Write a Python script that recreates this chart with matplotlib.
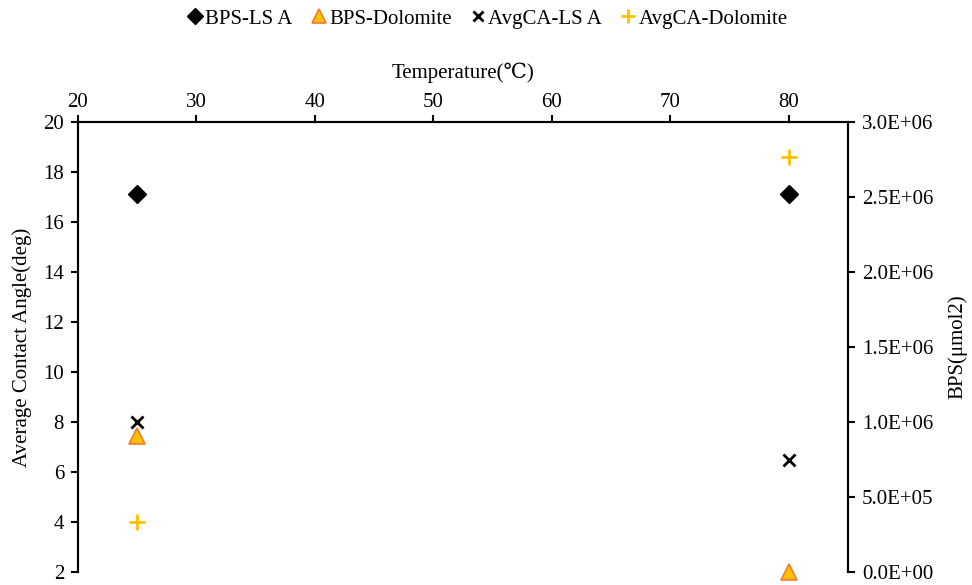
import numpy as np
import matplotlib
matplotlib.use('Agg')
import matplotlib.pyplot as plt
from matplotlib.ticker import FuncFormatter, MultipleLocator

plt.rcParams['font.family'] = ['Liberation Serif', 'DejaVu Serif']
plt.rcParams['font.size'] = 15

temps = [25, 80]
bps_ls_a = [2.52e6, 2.52e6]
bps_dolomite = [9.1e5, 0.0]
avgca_ls_a = [8.0, 6.5]
avgca_dolomite = [4.0, 18.6]

fig = plt.figure(figsize=(9.72, 5.85), dpi=100)
ax = fig.add_axes([0.0802, 0.0222, 0.7922, 0.7693])
ax2 = ax.twinx()

# left axis: contact angle
ax.plot(temps, avgca_ls_a, linestyle='none', marker='x', color='black',
        markersize=8, markeredgewidth=2, label='AvgCA-LS A', zorder=3)
ax.plot(temps, avgca_dolomite, linestyle='none', marker='+', color='#FFC000',
        markersize=12, markeredgewidth=2, label='AvgCA-Dolomite', zorder=3)

# right axis: BPS
ax2.plot(temps, bps_ls_a, linestyle='none', marker='D', color='black',
         markersize=9, label='BPS-LS A')
ax2.plot(temps, bps_dolomite, linestyle='none', marker='^', markerfacecolor='#FFC000',
         markeredgecolor='#ED7D31', markeredgewidth=1.2, markersize=12,
         label='BPS-Dolomite', clip_on=False)

ax.set_xlim(20, 85)
ax.set_ylim(2, 20)
ax2.set_ylim(0, 3.0e6)
ax.xaxis.set_major_locator(MultipleLocator(10))
ax.yaxis.set_major_locator(MultipleLocator(2))
ax2.yaxis.set_major_locator(MultipleLocator(5e5))
ax2.yaxis.set_major_formatter(FuncFormatter(lambda v, p: f"{v:.1E}"))

ax.xaxis.tick_top()
ax.xaxis.set_label_position('top')
ax.set_xlabel('Temperature(℃)', labelpad=11)
ax.set_ylabel('Average Contact Angle(deg)', labelpad=8)
ax2.set_ylabel('BPS(μmol2)', labelpad=10)

for a in (ax, ax2):
    a.spines['bottom'].set_visible(False)
    a.tick_params(axis='both', direction='out', length=5, width=1.5, colors='black', pad=5)
    for s in a.spines.values():
        s.set_linewidth(1.5)
ax.tick_params(axis='x', pad=2)
ax2.tick_params(axis='x', which='both', top=False, bottom=False,
                labeltop=False, labelbottom=False)
ax.tick_params(axis='x', bottom=False, labelbottom=False)

h1, l1 = ax2.get_legend_handles_labels()
h2, l2 = ax.get_legend_handles_labels()
fig.legend(h1 + h2, l1 + l2, loc='center', bbox_to_anchor=(0.5, 0.968), ncol=4,
           frameon=False, handletextpad=0.0, columnspacing=0.75, markerscale=0.85,
           handlelength=1.0, fontsize=15)

fig.savefig('out.png', dpi=100)
